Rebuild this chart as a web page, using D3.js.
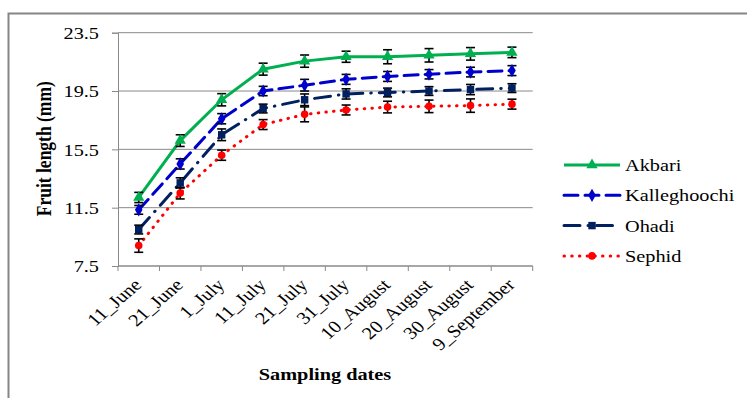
<!DOCTYPE html>
<html>
<head>
<meta charset="utf-8">
<script src="https://cdn.jsdelivr.net/npm/d3@7"></script>
<style>
  body { margin: 0; background: #fff; }
  svg { display: block; }
  svg text { font-family: "Liberation Serif", "DejaVu Serif", serif; fill: #000; }
</style>
</head>
<body>
<div id="wrapper"></div>
<script>
// data
const dates = ["11_June", "21_June", "1_July", "11_July", "21_July", "31_July",
               "10_August", "20_August", "30_August", "9_September"];
const yTicks = [7.5, 11.5, 15.5, 19.5, 23.5];

const akbari       = [12.2, 16.1, 18.9, 21.0, 21.55, 21.85, 21.85, 21.95, 22.05, 22.15];
const kalleghoochi = [11.35, 14.5, 17.6, 19.5, 19.9, 20.3, 20.5, 20.65, 20.8, 20.9];
const ohadi        = [10.0, 13.2, 16.5, 18.3, 18.9, 19.3, 19.4, 19.5, 19.6, 19.7];
const sephid       = [8.9, 12.5, 15.1, 17.2, 17.9, 18.2, 18.4, 18.45, 18.5, 18.6];

const akbariErr       = [0.35, 0.4, 0.42, 0.41, 0.42, 0.38, 0.48, 0.46, 0.43, 0.36];
const kalleghoochiErr = [0.3, 0.35, 0.35, 0.32, 0.4, 0.34, 0.34, 0.32, 0.33, 0.34];
const ohadiErr        = [0.3, 0.35, 0.4, 0.3, 0.4, 0.35, 0.3, 0.3, 0.35, 0.3];
const sephidErr       = [0.46, 0.4, 0.35, 0.34, 0.51, 0.34, 0.4, 0.43, 0.46, 0.34];

const seriesNames = ["Akbari", "Kalleghoochi", "Ohadi", "Sephid"];

const series = [
    {name: seriesNames[0], values: akbari, err: akbariErr, color: "#00B050", dash: null, cap: "butt", marker: d3.symbolTriangle, msize: 55},
    {name: seriesNames[1], values: kalleghoochi, err: kalleghoochiErr, color: "#0000CC", dash: "14,7", cap: "round", marker: d3.symbolDiamond, msize: 50},
    {name: seriesNames[2], values: ohadi, err: ohadiErr, color: "#002060", dash: "16,8,0.5,8", cap: "round", marker: d3.symbolSquare, msize: 55},
    {name: seriesNames[3], values: sephid, err: sephidErr, color: "#FF0000", dash: "0.5,7.2", cap: "round", marker: d3.symbolCircle, msize: 45}
];

const serif = "Liberation Serif, DejaVu Serif, serif";
const fs = 17.5;       // font size
const sx = 1.16;       // the picture's text is a bit wider than plain Times

var dimension = {
    width: 747,
    height: 398,
    margin: { top: 32.7, left: 118, bottom: 132, right: 214.3 }
};
dimension.boundedWidth = dimension.width - dimension.margin.left - dimension.margin.right;
dimension.boundedHeight = dimension.height - dimension.margin.top - dimension.margin.bottom;

const svg = d3.select("#wrapper").append("svg")
    .attr("width", dimension.width)
    .attr("height", dimension.height);

// outer frame (only top and left edges visible)
svg.append("path")
    .attr("d", "M8.5,398 V13.5 H747")
    .attr("fill", "none")
    .attr("stroke", "#858585")
    .attr("stroke-width", 2);

const bounded = svg.append("g")
    .attr("transform", `translate(${dimension.margin.left}, ${dimension.margin.top})`);

const xScaler = d3.scaleBand()
    .domain(dates)
    .range([0, dimension.boundedWidth]);
const xCenter = (i) => xScaler(dates[i]) + xScaler.bandwidth() / 2;

const yScaler = d3.scaleLinear()
    .domain([7.5, 23.5])
    .range([dimension.boundedHeight, 0]);

// y axis
const yAxis = d3.axisLeft(yScaler)
    .tickValues(yTicks)
    .tickFormat(d3.format(".1f"))
    .tickSize(6);

bounded.append("g")
    .call(yAxis)
    .attr("font-family", serif)
    .call(g => g.select(".domain").attr("stroke", "#898989"))
    .call(g => g.selectAll(".tick line").attr("stroke", "#898989"))
    .call(g => g.selectAll(".tick text")
        .attr("x", 0)
        .attr("dy", "0.33em")
        .attr("transform", `translate(-19, 0) scale(${sx}, 1)`)
        .attr("font-size", fs)
        .attr("font-family", serif)
        .attr("fill", "#000"));

// gridlines
bounded.append("g")
    .selectAll("line")
    .data(yTicks)
    .join("line")
    .attr("x1", 0)
    .attr("x2", dimension.boundedWidth)
    .attr("y1", d => yScaler(d))
    .attr("y2", d => yScaler(d))
    .attr("stroke", "#898989")
    .attr("stroke-width", 1);

// x axis: ticks at band edges
const xAxisG = bounded.append("g")
    .attr("transform", `translate(0, ${dimension.boundedHeight})`);
xAxisG.append("line")
    .attr("x1", 0).attr("x2", dimension.boundedWidth)
    .attr("stroke", "#898989");
xAxisG.selectAll(".edge")
    .data(dates.concat(["end"]))
    .join("line")
    .attr("class", "edge")
    .attr("x1", (d, i) => i < dates.length ? xScaler(d) : dimension.boundedWidth)
    .attr("x2", (d, i) => i < dates.length ? xScaler(d) : dimension.boundedWidth)
    .attr("y1", 0).attr("y2", 5)
    .attr("stroke", "#898989");
xAxisG.selectAll(".lab")
    .data(dates)
    .join("text")
    .attr("class", "lab")
    .attr("text-anchor", "end")
    .attr("font-size", fs)
    .attr("font-family", serif)
    .attr("transform", (d, i) => `translate(${xCenter(i) + 4}, 20) scale(${sx}, 1) rotate(-45)`)
    .text(d => d);

// lines
const lineGen = d3.line()
    .x((d, i) => xCenter(i))
    .y(d => yScaler(d));

series.forEach(s => {
    bounded.append("path")
        .attr("d", lineGen(s.values))
        .attr("fill", "none")
        .attr("stroke", s.color)
        .attr("stroke-width", 3)
        .attr("stroke-linecap", s.cap)
        .attr("stroke-dasharray", s.dash);
});

// error bars
series.forEach(s => {
    const g = bounded.append("g").attr("stroke", "#000").attr("stroke-width", 1.6);
    s.values.forEach((v, i) => {
        const x = xCenter(i);
        const y0 = yScaler(v - s.err[i]);
        const y1 = yScaler(v + s.err[i]);
        g.append("line").attr("x1", x).attr("x2", x).attr("y1", y0).attr("y2", y1);
        g.append("line").attr("x1", x - 4.5).attr("x2", x + 4.5).attr("y1", y0).attr("y2", y0);
        g.append("line").attr("x1", x - 4.5).attr("x2", x + 4.5).attr("y1", y1).attr("y2", y1);
    });
});

// markers
series.forEach(s => {
    bounded.append("g")
        .selectAll("path")
        .data(s.values)
        .join("path")
        .attr("d", d3.symbol().type(s.marker).size(s.msize))
        .attr("transform", (d, i) => `translate(${xCenter(i)}, ${yScaler(d)})`)
        .attr("fill", s.color);
});

// axis titles
svg.append("text")
    .attr("transform", `translate(51, 148.7) scale(${sx}, 1) rotate(-90)`)
    .attr("text-anchor", "middle")
    .attr("font-family", serif)
    .attr("font-size", fs)
    .attr("font-weight", "bold")
    .text("Fruit length (mm)");

svg.append("text")
    .attr("transform", `translate(325, 380) scale(${sx}, 1)`)
    .attr("text-anchor", "middle")
    .attr("font-family", serif)
    .attr("font-size", fs)
    .attr("font-weight", "bold")
    .text("Sampling dates");

// legend
const legend = svg.append("g").attr("transform", "translate(564, 165)");
series.forEach((s, i) => {
    const row = legend.append("g").attr("transform", `translate(0, ${i * 30.3})`);
    row.append("line")
        .attr("x1", 0).attr("x2", 56)
        .attr("stroke", s.color)
        .attr("stroke-width", 3)
        .attr("stroke-linecap", s.cap)
        .attr("stroke-dasharray", s.dash);
    row.append("path")
        .attr("d", d3.symbol().type(s.marker).size(s.msize))
        .attr("transform", "translate(28, 0)")
        .attr("fill", s.color);
    row.append("text")
        .attr("transform", `translate(61, 6) scale(${sx}, 1)`)
        .attr("font-family", serif)
        .attr("font-size", fs)
        .text(s.name);
});
</script>
</body>
</html>
